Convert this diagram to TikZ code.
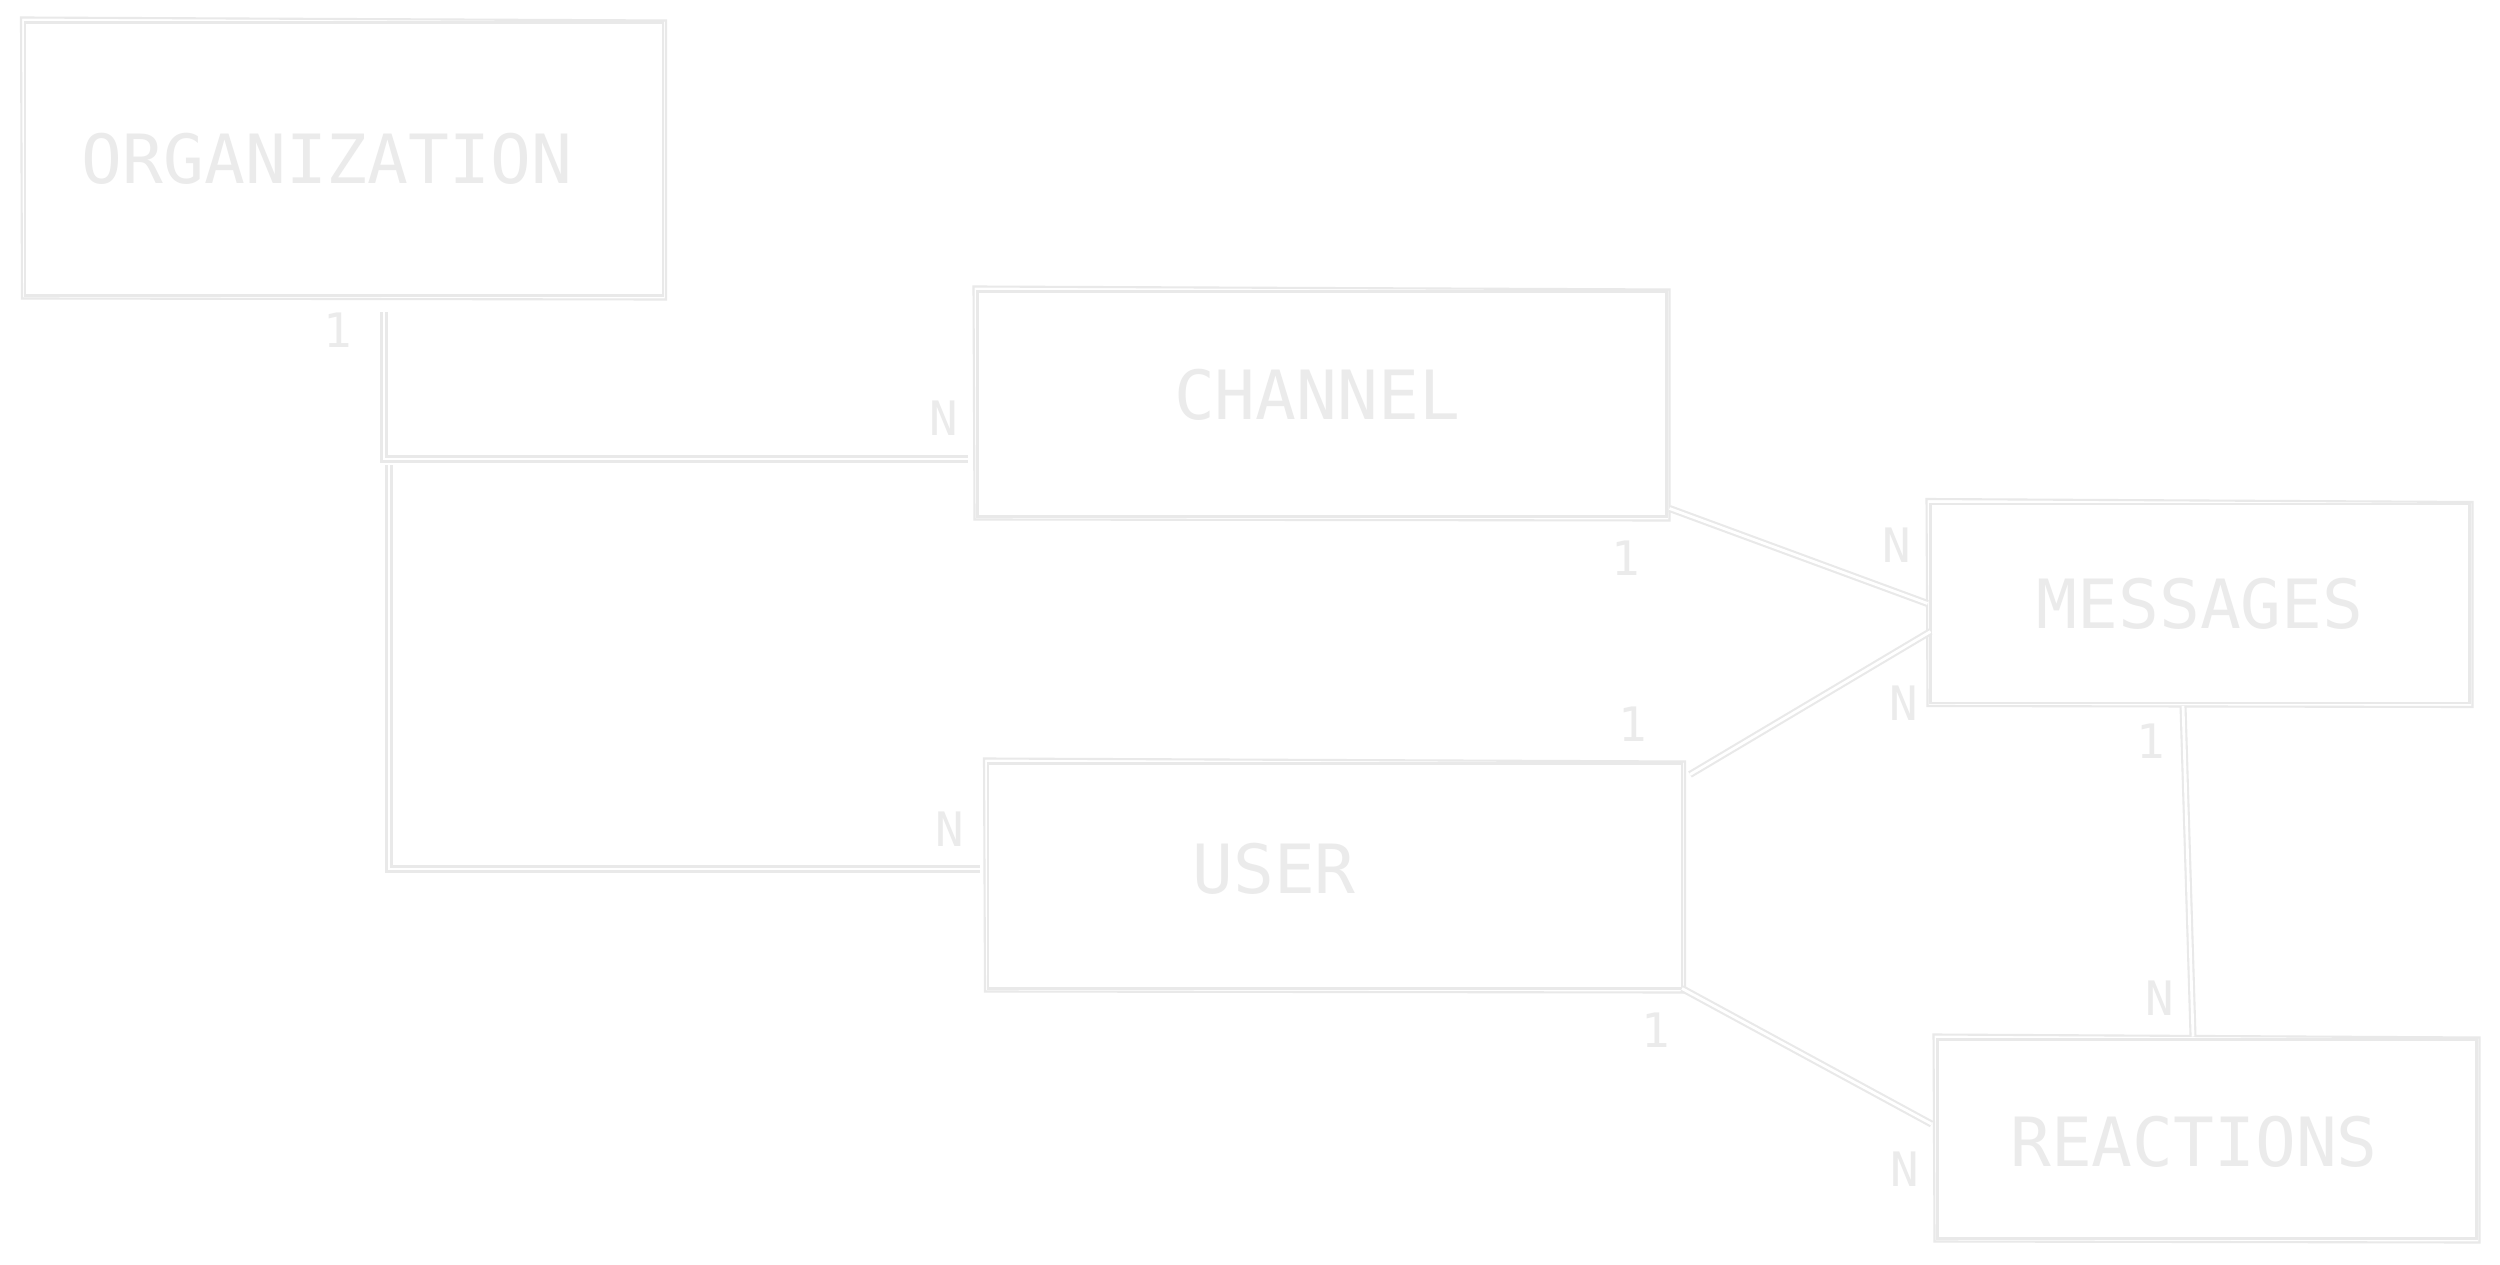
\documentclass[tikz,border=0pt]{standalone}
\usepackage{fontspec}
\setmonofont{DejaVu Sans Mono}
\usetikzlibrary{positioning}
\definecolor{SketchGray}{HTML}{E9E9E9}
\definecolor{InkGray}{HTML}{EBEBEB}

\tikzset{
  entity/.style={draw=SketchGray, line width=0.8pt, inner sep=0pt, outer sep=0pt},
  entlabel/.style={text=InkGray, font=\ttfamily\fontsize{19.3}{23}\selectfont},
  card/.style={text=InkGray, font=\ttfamily\fontsize{13.5}{16}\selectfont, inner sep=0pt},
  link/.style={draw=SketchGray, line width=0.6pt, double=white, double distance=0.8pt},
  rough/.style={draw=SketchGray, line width=0.6pt}
}

% second hand-drawn stroke round a box
\newcommand{\roughoutline}[1]{%
  \draw[rough] ([shift={(-0.04,0.05)}]#1.north west) -- ([shift={(0.03,0.02)}]#1.north east)
    -- ([shift={(0.03,-0.04)}]#1.south east) -- ([shift={(-0.03,-0.03)}]#1.south west) -- cycle;}

\begin{document}
\begin{tikzpicture}
  \fill[white] (0,0) rectangle (25,-12.65);
  \useasboundingbox (0,0) rectangle (25,-12.65);

  % Entities
  \node[entity, minimum width=6.38cm, minimum height=2.73cm,
        label={[name=org-t, entlabel, xshift=-0.17cm]center:ORGANIZATION}] (org) at (3.44,-1.59) {};
  \node[entity, minimum width=6.89cm, minimum height=2.25cm,
        label={[name=channel-t, entlabel, xshift=-0.05cm, yshift=0.09cm]center:CHANNEL}] (channel) at (13.22,-4.04) {};
  \node[entity, minimum width=5.39cm, minimum height=1.99cm,
        label={[name=messages-t, entlabel]center:MESSAGES}] (messages) at (22.00,-6.035) {};
  \node[entity, minimum width=6.94cm, minimum height=2.25cm,
        label={[name=user-t, entlabel, xshift=-0.61cm, yshift=0.07cm]center:USER}] (user) at (13.35,-8.76) {};
  \node[entity, minimum width=5.39cm, minimum height=1.99cm,
        label={[name=reactions-t, entlabel, xshift=-0.13cm, yshift=-0.03cm]center:REACTIONS}] (reactions) at (22.07,-11.39) {};

  \roughoutline{org}
  \roughoutline{channel}
  \roughoutline{messages}
  \roughoutline{user}
  \roughoutline{reactions}

  % Relations
  \draw[link] ([xshift=0.4cm,yshift=-0.17cm]org.south) |- ([xshift=-0.1cm,yshift=-0.55cm]channel.west);
  \draw[link] ([xshift=0.45cm,yshift=-1.7cm]org.south) |- ([xshift=-0.08cm,yshift=0.07cm]user.west);
  \draw[link] ([xshift=0.03cm,yshift=0.08cm]channel.south east) -- ([xshift=-0.03cm]messages.west);
  \draw[link] ([xshift=0.08cm,yshift=-0.11cm]user.north east) -- ([yshift=-0.28cm]messages.west);
  \draw[link] ([xshift=-0.17cm,yshift=-0.03cm]messages.south) -- ([xshift=-0.14cm,yshift=0.03cm]reactions.north);
  \draw[link] (user.south east) -- ([xshift=-0.06cm,yshift=0.15cm]reactions.west);

  % Cardinalities
  \node[card] (card-org1) at (3.38,-3.30) {1};
  \node[card] (card-chN) at (9.44,-4.18) {N};
  \node[card] (card-usN) at (9.50,-8.29) {N};
  \node[card] (card-ch1) at (16.26,-5.58) {1};
  \node[card] (card-msN1) at (18.97,-5.45) {N};
  \node[card] (card-us1) at (16.33,-7.24) {1};
  \node[card] (card-msN2) at (19.04,-7.03) {N};
  \node[card] (card-ms1) at (21.51,-7.41) {1};
  \node[card] (card-reN1) at (21.60,-9.98) {N};
  \node[card] (card-us2) at (16.56,-10.30) {1};
  \node[card] (card-reN2) at (19.05,-11.69) {N};
\end{tikzpicture}
\end{document}
